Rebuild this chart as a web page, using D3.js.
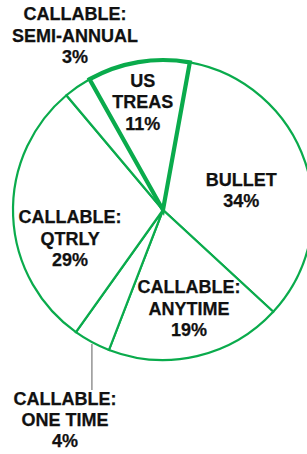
<!DOCTYPE html>
<html>
<head>
<meta charset="utf-8">
<script src="https://cdn.jsdelivr.net/npm/d3@7"></script>
<style>
  html, body { margin: 0; padding: 0; background: #fff; }
  svg { display: block; }
  text { font-family: "Liberation Sans", Arial, sans-serif; font-weight: bold; fill: #111; stroke: #111; stroke-width: 0.25px; }
</style>
</head>
<body>
<div id="chart"></div>
<script>
// slice data, clockwise
var categories = ["US TREAS", "BULLET", "CALLABLE: ANYTIME", "CALLABLE: ONE TIME", "CALLABLE: QTRLY", "CALLABLE: SEMI-ANNUAL"];
var values = [11, 34, 19, 4, 29, 3];
var labelLines = [
    ["US", "TREAS", "11%"],
    ["BULLET", "34%"],
    ["CALLABLE:", "ANYTIME", "19%"],
    ["CALLABLE:", "ONE TIME", "4%"],
    ["CALLABLE:", "QTRLY", "29%"],
    ["CALLABLE:", "SEMI-ANNUAL", "3%"]
];

var w = 307, h = 454;
var cx = 163, cy = 210, r = 150;
var green = "#0aab4c";
var lineH = 21.3;
// nudges from the slice centroid, per label
var labelShift = [[-5, -16], [-10, 10], [5, 8], [-54, 128], [0, 25], [-35, -98]];

var svg = d3.select("#chart").append("svg")
    .attr("width", w)
    .attr("height", h);

var g = svg.append("g").attr("transform", "translate(" + cx + "," + cy + ")");

var start = -29.3 * Math.PI / 180;
var pie = d3.pie().sort(null).value(d => d)
    .startAngle(start).endAngle(start + 2 * Math.PI);
var arcs = pie(values);

var arc = d3.arc().innerRadius(0).outerRadius(r);
var labelArc = d3.arc().innerRadius(r * 0.62).outerRadius(r * 0.62);

// draw thin slices first, highlighted one (US TREAS) on top
var order = d3.range(arcs.length).filter(i => i != 0).concat([0]);
g.selectAll("path.slice")
    .data(order.map(i => arcs[i]))
    .join("path")
    .attr("class", "slice")
    .attr("d", arc)
    .attr("fill", "#fff")
    .attr("stroke", green)
    .attr("stroke-linejoin", "miter")
    .attr("stroke-width", (d) => d.index == 0 ? 4.2 : 2.2);

// leader for the small ONE TIME slice
var one = arcs[3];
var mid = (one.startAngle + one.endAngle) / 2;
var lx = r * Math.sin(mid), ly = -r * Math.cos(mid);
g.append("line")
    .attr("x1", lx).attr("y1", ly + 2)
    .attr("x2", lx).attr("y2", 180)
    .attr("stroke", "#9a9a9a")
    .attr("stroke-width", 1.6);

arcs.forEach((a, i) => {
    var c = labelArc.centroid(a);
    var px = c[0] + labelShift[i][0];
    var py = c[1] + labelShift[i][1];
    var lines = labelLines[i];
    var y0 = py - (lines.length - 1) * lineH / 2 + 6;
    var t = g.append("text")
        .attr("text-anchor", "middle")
        .style("font-size", "18px");
    lines.forEach((s, k) => {
        t.append("tspan").attr("x", px).attr("y", y0 + k * lineH).text(s);
    });
});
</script>
</body>
</html>
